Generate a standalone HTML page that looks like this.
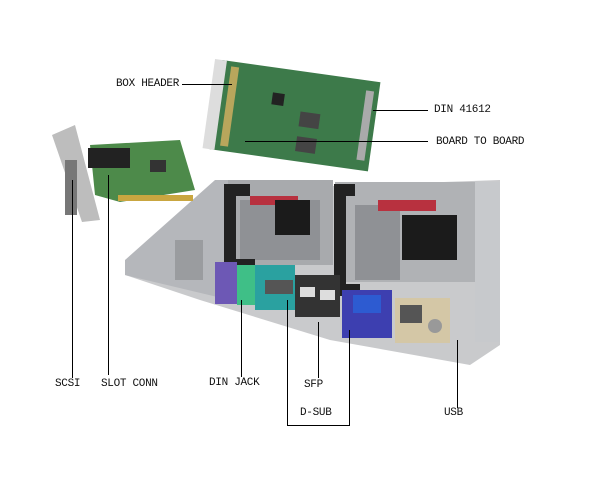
<!DOCTYPE html>
<html><head><style>
body{margin:0;background:#fff;width:600px;height:500px;overflow:hidden;position:relative}
.t{position:absolute;font-size:11px;color:#111;font-family:"Liberation Mono",monospace;letter-spacing:-0.3px}
</style></head><body>
<svg width="600" height="500" style="position:absolute;left:0;top:0">
<polygon points="125,275 220,190 500,180 500,345 470,365 330,340 200,300 125,275" fill="#c9cacc"/>
<polygon points="125,260 215,180 230,180 230,300 125,275" fill="#b5b7bb"/>
<rect x="228" y="180" width="105" height="85" fill="#a8aaad"/>
<rect x="335" y="182" width="140" height="100" fill="#b0b2b5"/>
<rect x="475" y="182" width="25" height="160" fill="#c7c9cc"/>
<rect x="240" y="200" width="80" height="60" fill="#8f9195"/>
<rect x="355" y="205" width="45" height="75" fill="#8f9195"/>
<path d="M250 190 h-20 v75 h25" stroke="#222" stroke-width="12" fill="none"/>
<path d="M355 190 h-15 v100 h20" stroke="#222" stroke-width="12" fill="none"/>
<rect x="250" y="196" width="48" height="9" fill="#b8313f"/>
<rect x="378" y="200" width="58" height="11" fill="#b8313f"/>
<rect x="275" y="200" width="35" height="35" fill="#1b1b1b"/>
<rect x="402" y="215" width="55" height="45" fill="#1b1b1b"/>
<rect x="215" y="262" width="22" height="42" fill="#6d58b5"/>
<rect x="237" y="265" width="20" height="40" fill="#3fbf87"/>
<rect x="255" y="265" width="40" height="45" fill="#2aa1a0"/>
<rect x="265" y="280" width="28" height="14" fill="#555"/>
<rect x="295" y="275" width="45" height="42" fill="#333"/>
<rect x="300" y="287" width="15" height="10" fill="#ddd"/><rect x="320" y="290" width="15" height="10" fill="#ddd"/>
<rect x="342" y="290" width="50" height="48" fill="#3d3fb0"/>
<rect x="353" y="295" width="28" height="18" fill="#2d5bd1"/>
<rect x="395" y="298" width="55" height="45" fill="#d4c7a6"/>
<rect x="400" y="305" width="22" height="18" fill="#555"/>
<circle cx="435" cy="326" r="7" fill="#999"/>
<rect x="175" y="240" width="28" height="40" fill="#9a9c9f"/>
<g transform="rotate(8 290 115)">
<rect x="215" y="70" width="160" height="90" fill="#3d7a4a"/>
<rect x="208" y="70" width="12" height="90" fill="#ddd"/>
<rect x="225" y="75" width="8" height="80" fill="#b8a65c"/>
<rect x="270" y="95" width="12" height="12" fill="#222"/>
<rect x="300" y="110" width="20" height="15" fill="#444"/>
<rect x="300" y="135" width="20" height="15" fill="#444"/>
<rect x="362" y="80" width="8" height="70" fill="#aaa"/>
</g>
<polygon points="52,135 75,125 100,220 82,222" fill="#bdbdbd"/>
<polygon points="90,145 180,140 195,190 120,202 95,195" fill="#4d8a4a"/>
<rect x="88" y="148" width="42" height="20" fill="#222"/>
<rect x="150" y="160" width="16" height="12" fill="#333"/>
<rect x="118" y="195" width="75" height="6" fill="#c9a640"/>
<rect x="65" y="160" width="12" height="55" fill="#777"/>
<g stroke="#000" stroke-width="1" fill="none">
<line x1="182" y1="84.5" x2="232" y2="84.5"/>
<line x1="373" y1="110.5" x2="428" y2="110.5"/>
<line x1="245" y1="141.5" x2="428" y2="141.5"/>
<line x1="72.5" y1="180" x2="72.5" y2="378"/>
<line x1="108.5" y1="175" x2="108.5" y2="375"/>
<line x1="241.5" y1="300" x2="241.5" y2="377"/>
<line x1="318.5" y1="322" x2="318.5" y2="378"/>
<polyline points="287.5,300 287.5,425.5 349.5,425.5 349.5,330"/>
<line x1="457.5" y1="340" x2="457.5" y2="408"/>
</g>
</svg>
<div class="t" style="left:116px;top:78px">BOX HEADER</div>
<div class="t" style="left:434px;top:104px">DIN 41612</div>
<div class="t" style="left:436px;top:136px">BOARD TO BOARD</div>
<div class="t" style="left:55px;top:378px">SCSI</div>
<div class="t" style="left:101px;top:378px">SLOT CONN</div>
<div class="t" style="left:209px;top:377px">DIN JACK</div>
<div class="t" style="left:304px;top:379px">SFP</div>
<div class="t" style="left:300px;top:407px">D-SUB</div>
<div class="t" style="left:444px;top:407px">USB</div>
</body></html>
